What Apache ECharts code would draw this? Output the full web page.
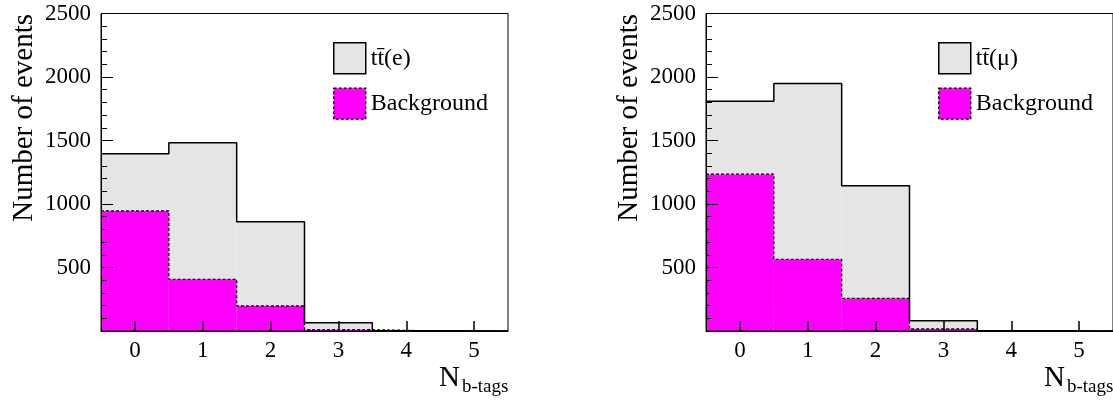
<!DOCTYPE html>
<html>
<head>
<meta charset="utf-8">
<script src="https://cdn.jsdelivr.net/npm/echarts@6/dist/echarts.min.js"></script>
<style>
html,body{margin:0;padding:0;background:#fff;}
#c{width:1113px;height:402px;}
</style>
</head>
<body>
<div id="c"></div>
<script>
// ---- data ----
const bins = ['0', '1', '2', '3', '4', '5'];
const yTicks = [500, 1000, 1500, 2000, 2500];
// electron channel
const sigE = [449, 1075, 663, 55, 2, 0];
const bkgE = [946, 407, 197, 10, 0, 0];
// muon channel
const sigMu = [575, 1385, 886, 65, 2, 0];
const bkgMu = [1235, 564, 257, 16, 0, 0];
const sigNameE = 't\u0074\u0304(e)';
const sigNameMu = 't\u0074\u0304(\u03bc)';
const bkgName = 'Background';

// ---- style ----
const FONT = '"Liberation Serif", "Times New Roman", serif';
const GRAY = '#e5e5e5';
const MAG = '#ff00ff';

function stepPts(vals) {
  const pts = [];
  vals.forEach((v, i) => { pts.push([i - 0.5, v]); pts.push([i + 0.5, v]); });
  return pts;
}
function sum(a, b) { return a.map((v, i) => v + b[i]); }

const panels = [
  { left: 101, sig: sigE, bkg: bkgE, name: sigNameE },
  { left: 706, sig: sigMu, bkg: bkgMu, name: sigNameMu }
];

const grid = [], xAxis = [], yAxis = [], series = [], legend = [], graphic = [];
panels.forEach((p, k) => {
  grid.push({ left: p.left, top: 13.5, width: 407, height: 317.5, show: true,
    borderColor: '#000', borderWidth: 1, backgroundColor: 'transparent', z: 10 });
  xAxis.push({ type: 'category', gridIndex: k, data: bins, boundaryGap: true,
    axisLine: { onZero: false, lineStyle: { color: '#000', width: 1 } },
    axisTick: { show: true, inside: true, alignWithLabel: true, interval: 0, length: 10, lineStyle: { color: '#000', width: 1.5 } },
    axisLabel: { color: '#000', fontFamily: FONT, fontSize: 23, margin: 8, interval: 0 },
    splitLine: { show: false }, z: 12 });
  xAxis.push({ type: 'value', gridIndex: k, min: -0.5, max: 5.5, show: false });
  yAxis.push({ type: 'value', gridIndex: k, min: 0, max: 2500, interval: 500,
    axisLine: { show: true, onZero: false, lineStyle: { color: '#000', width: 1 } },
    axisTick: { show: true, inside: true, length: 12, lineStyle: { color: '#000', width: 1 } },
    minorTick: { show: true, splitNumber: 5, length: 6, lineStyle: { color: '#000', width: 1 } },
    axisLabel: { color: '#000', fontFamily: FONT, fontSize: 23, margin: 10,
      formatter: v => (yTicks.indexOf(v) >= 0 ? String(v) : '') },
    splitLine: { show: false }, z: 12 });
  const xi = k * 2, xv = k * 2 + 1;
  series.push({ type: 'bar', name: bkgName, xAxisIndex: xi, yAxisIndex: k, stack: 's' + k,
    data: p.bkg, barWidth: '100%', itemStyle: { color: MAG }, silent: true, z: 2 });
  series.push({ type: 'bar', name: p.name, xAxisIndex: xi, yAxisIndex: k, stack: 's' + k,
    data: p.sig, barWidth: '100%', itemStyle: { color: GRAY }, silent: true, z: 2 });
  series.push({ type: 'line', xAxisIndex: xv, yAxisIndex: k, data: stepPts(p.bkg), symbol: 'none',
    lineStyle: { color: '#000', width: 1.3, type: [3, 2] }, z: 5, silent: true });
  series.push({ type: 'line', xAxisIndex: xv, yAxisIndex: k, data: stepPts(sum(p.sig, p.bkg)), symbol: 'none',
    lineStyle: { color: '#000', width: 1.5 }, z: 6, silent: true });
  legend.push({ left: p.left + 232, top: 42, orient: 'vertical', padding: 0, itemWidth: 32, itemHeight: 31, itemGap: 13,
    selectedMode: false, icon: 'rect',
    textStyle: { fontFamily: FONT, fontSize: 24, color: '#000' },
    data: [
      { name: p.name, itemStyle: { color: GRAY, borderColor: '#000', borderWidth: 1.5 } },
      { name: bkgName, itemStyle: { color: MAG, borderColor: '#000', borderWidth: 1.3, borderType: [3, 2] } }
    ] });
  const dx = p.left - 101;
  graphic.push({ type: 'text', x: 10 + dx, y: 14, rotation: Math.PI / 2,
    style: { text: 'Number of events', font: '29px ' + FONT, fill: '#000', textAlign: 'right', textVerticalAlign: 'top' } });
  graphic.push({ type: 'text', x: 460 + dx, y: 378,
    style: { text: 'N', font: '29px ' + FONT, fill: '#000', textAlign: 'right', textVerticalAlign: 'middle' } });
  graphic.push({ type: 'text', x: 462 + dx, y: 387,
    style: { text: 'b-tags', font: '19px ' + FONT, fill: '#000', textAlign: 'left', textVerticalAlign: 'middle' } });
});

const chart = echarts.init(document.getElementById('c'), null, { renderer: 'canvas' });
chart.setOption({ animation: false, backgroundColor: '#fff', grid, xAxis, yAxis, series, legend, graphic });
</script>
</body>
</html>
